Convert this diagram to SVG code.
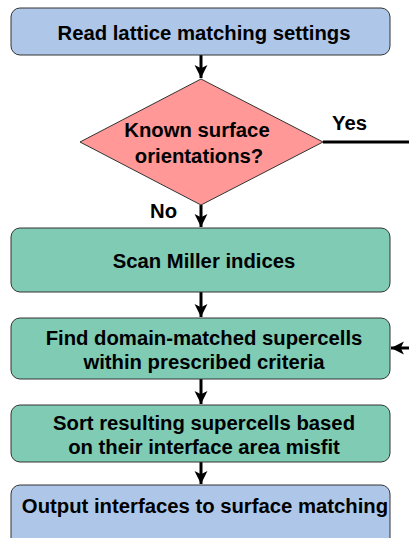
<svg xmlns="http://www.w3.org/2000/svg" width="409" height="538" viewBox="0 0 409 538">
<style>
.box{stroke:#333;stroke-width:1}
.blue{fill:#AEC7E8}
.green{fill:#7FCBB4}
.dia{fill:#FF9896;stroke:#333;stroke-width:1}
.t{font-family:"Liberation Sans",Arial,sans-serif;font-weight:bold;font-size:20.3px;fill:#000;text-anchor:middle}
.lbl{font-family:"Liberation Sans",Arial,sans-serif;font-weight:bold;font-size:20.3px;fill:#000}
.c{stroke:#000;stroke-width:3;fill:none}
</style>
<defs>
<marker id="ah" markerUnits="userSpaceOnUse" markerWidth="14" markerHeight="14" viewBox="0 0 13 13" refX="12" refY="6.5" orient="auto">
<path d="M0,0.5 L12,6.5 L0,12.5 L3,6.5 Z" fill="#000"/>
</marker>
</defs>
<rect width="409" height="538" fill="#fff"/>
<g id="connectors">
<line class="c" x1="201" y1="55" x2="201" y2="78" marker-end="url(#ah)"/>
<line class="c" x1="201" y1="205" x2="201" y2="227" marker-end="url(#ah)"/>
<line class="c" x1="201" y1="292" x2="201" y2="317" marker-end="url(#ah)"/>
<line class="c" x1="201" y1="379" x2="201" y2="404" marker-end="url(#ah)"/>
<line class="c" x1="201" y1="462" x2="201" y2="484" marker-end="url(#ah)"/>
<line class="c" x1="323" y1="142" x2="409" y2="142"/>
<line class="c" x1="409" y1="348" x2="391" y2="348" marker-end="url(#ah)"/>
<text class="lbl" x="332" y="130">Yes</text>
<text class="lbl" x="150" y="218">No</text>
</g>
<g id="read">
<rect class="box blue" x="11" y="8" width="379" height="47" rx="9"/>
<text class="t" x="204" y="40">Read lattice matching settings</text>
</g>
<g id="known">
<polygon class="dia" points="201,79 323,142 201,205 80,142"/>
<text class="t" x="197" y="137">Known surface</text>
<text class="t" x="199" y="163">orientations?</text>
</g>
<g id="scan">
<rect class="box green" x="11" y="228" width="379" height="64" rx="9"/>
<text class="t" x="204" y="268">Scan Miller indices</text>
</g>
<g id="find">
<rect class="box green" x="11" y="318" width="379" height="61" rx="9"/>
<text class="t" x="204" y="345">Find domain-matched supercells</text>
<text class="t" x="204" y="369">within prescribed criteria</text>
</g>
<g id="sort">
<rect class="box green" x="11" y="405" width="379" height="57" rx="9"/>
<text class="t" x="204" y="430">Sort resulting supercells based</text>
<text class="t" x="204" y="454">on their interface area misfit</text>
</g>
<g id="output">
<rect class="box blue" x="11" y="485" width="379" height="65" rx="9"/>
<text class="t" x="205" y="513">Output interfaces to surface matching</text>
</g>
</svg>
